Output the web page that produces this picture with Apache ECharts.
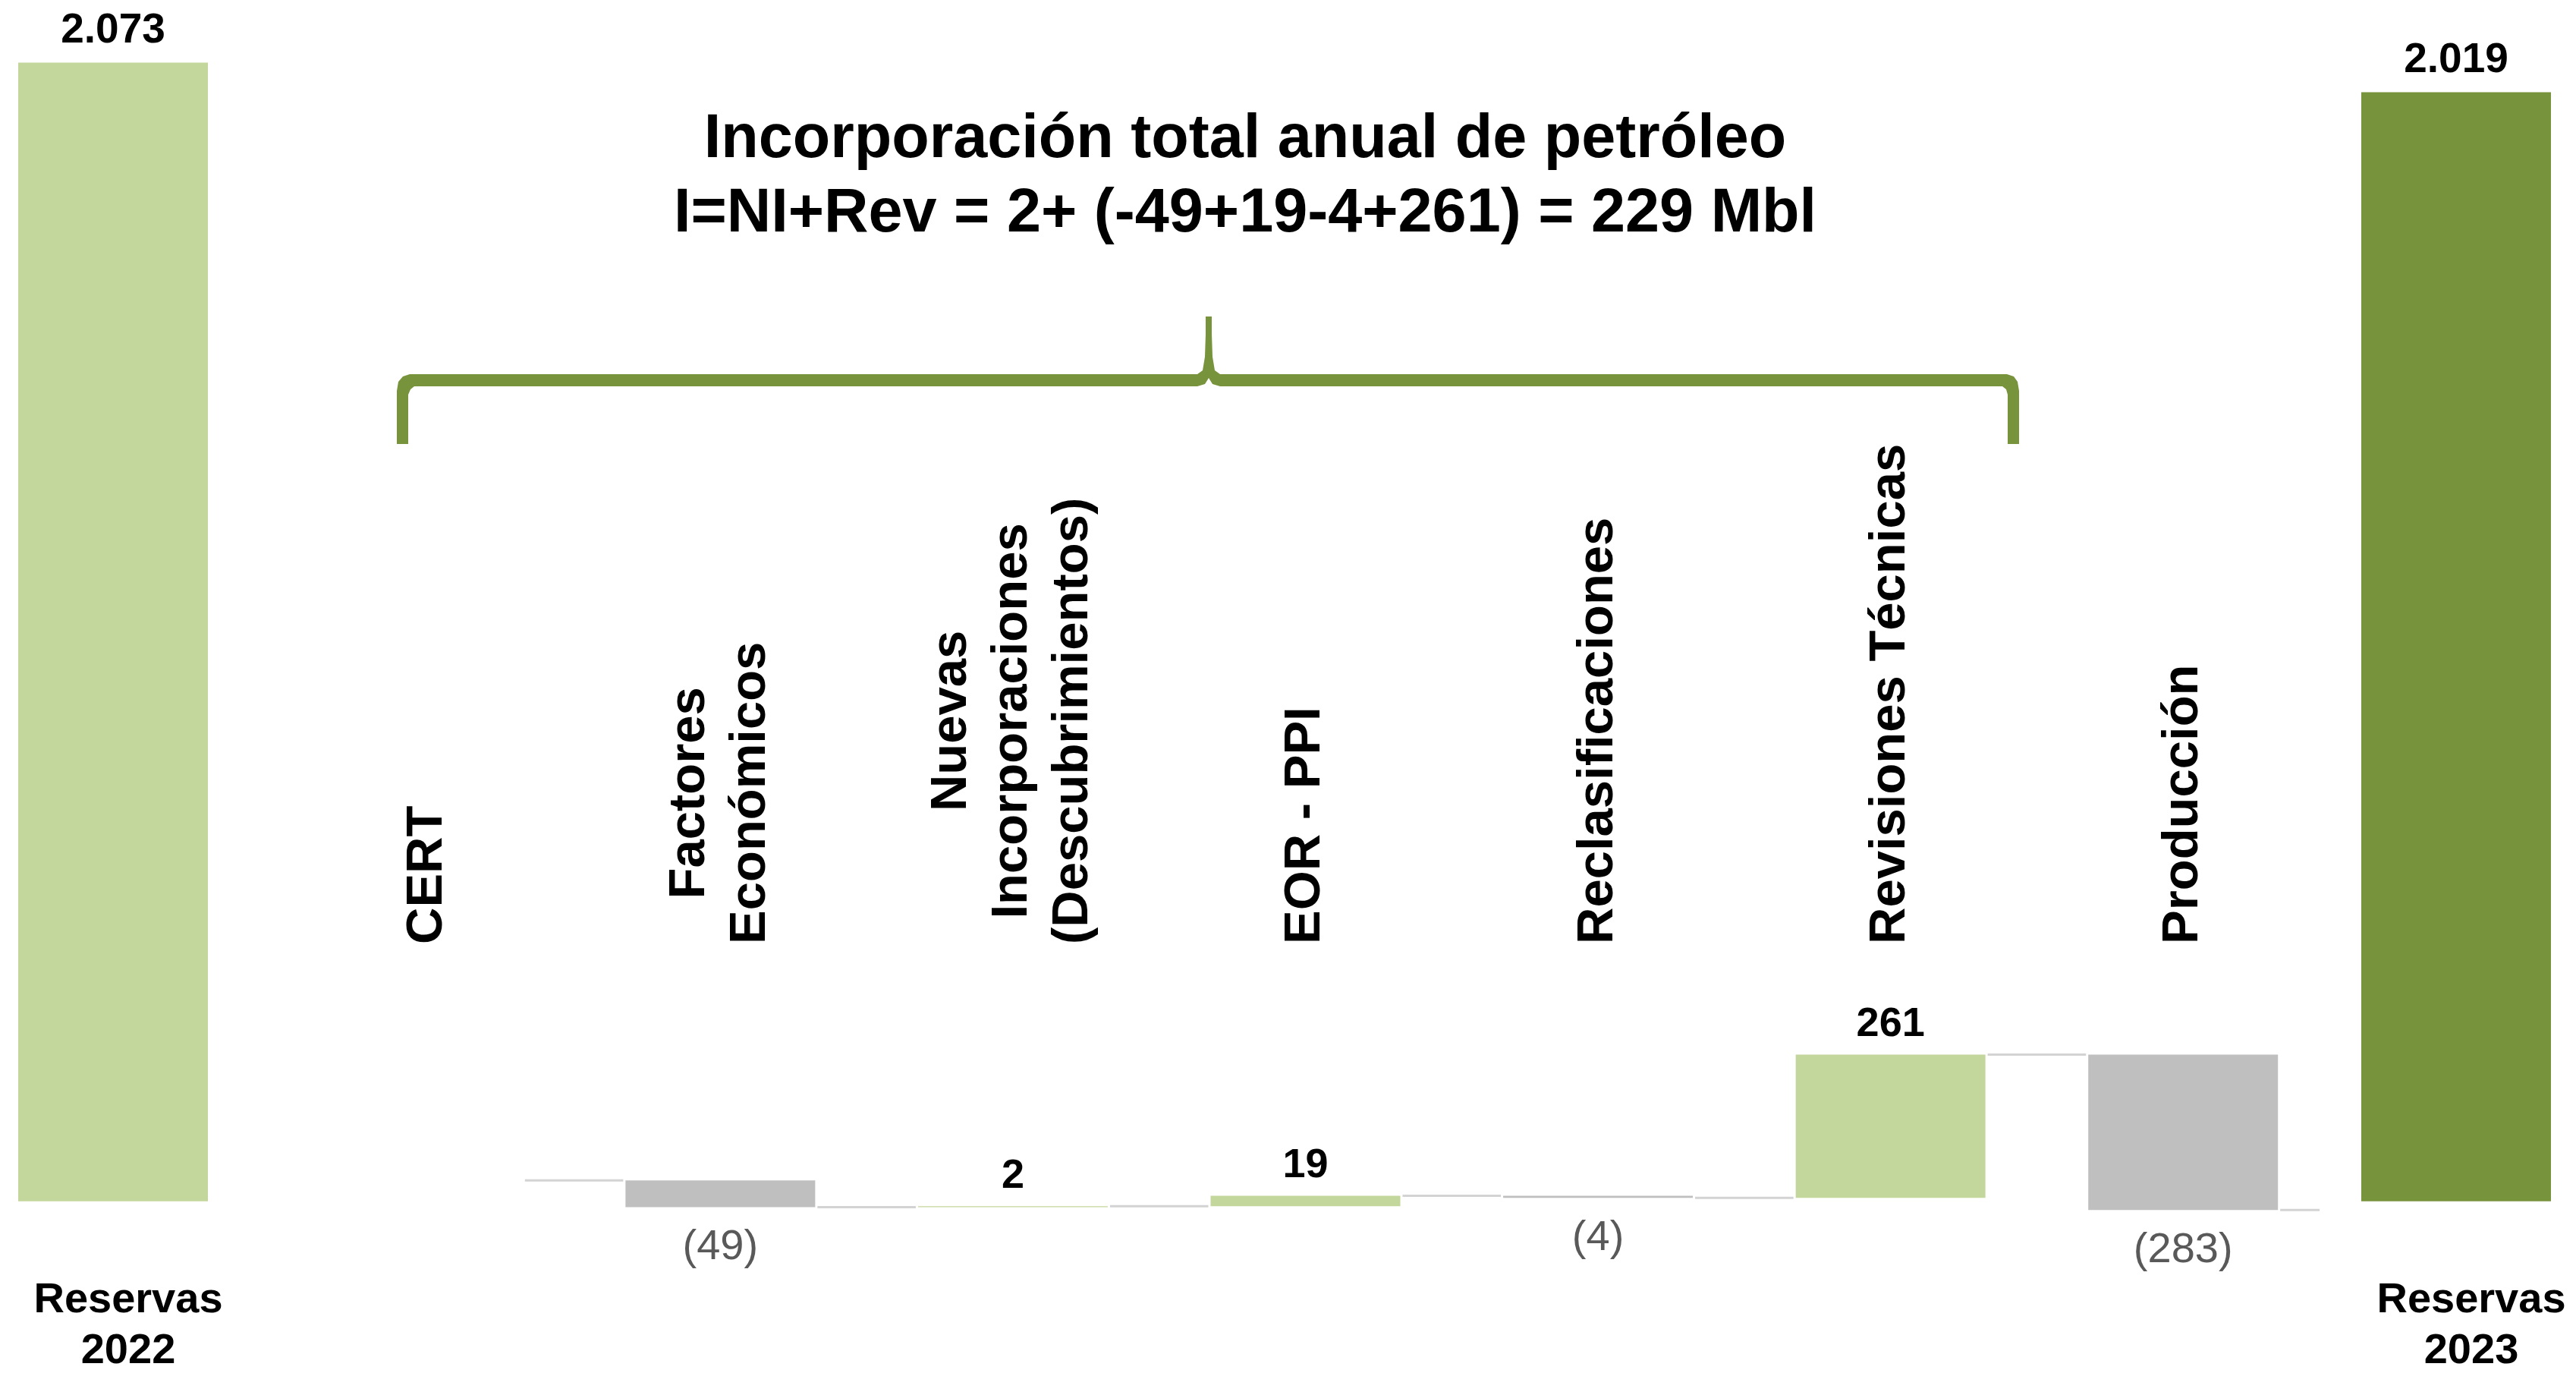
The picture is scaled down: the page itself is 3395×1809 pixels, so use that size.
<!DOCTYPE html>
<html><head><meta charset="utf-8">
<script src="https://cdn.jsdelivr.net/npm/echarts@6/dist/echarts.min.js"></script>
<style>html,body{margin:0;padding:0;background:#fff}#c{width:3395px;height:1809px}</style>
</head><body><div id="c"></div>
<script>
const FONT = '"Liberation Sans", Arial, sans-serif';

// ---- data ----
const endCategories = ['Reservas\n2022', 'Reservas\n2023'];
const reserveValues = [2073, 2019];
const stepCategories = ['CERT', 'Factores\nEconómicos', 'Nuevas\nIncorporaciones\n(Descubrimientos)', 'EOR - PPI', 'Reclasificaciones', 'Revisiones Técnicas', 'Producción'];
const stepValues = [0, -49, 2, 19, -4, 261, -283];
const stepStartLevel = 38; // level at which the floating steps begin
const titleLines = ['Incorporación total anual de petróleo', 'I=NI+Rev = 2+ (-49+19-4+261) = 229 Mbl'];

// ---- styles ----
const C_LIGHT = '#C3D69B', C_DARK = '#77933C', C_GRAY = '#BFBFBF', C_CONN = '#D3D3D3';
const BAR_W = 250;

const allCats = [endCategories[0]].concat(stepCategories, [endCategories[1]]);
const reserveData = allCats.map((c, i) => {
  if (i === 0) return { value: reserveValues[0], itemStyle: { color: C_LIGHT } };
  if (i === allCats.length - 1) return { value: reserveValues[1], itemStyle: { color: C_DARK } };
  return '-';
});

const before = [], after = [];
let lv = stepStartLevel;
stepValues.forEach(d => { before.push(lv); lv += d; after.push(lv); });
const bases = stepValues.map((d, i) => Math.min(before[i], after[i]));
const deltaData = stepValues.map((d, i) => ({
  value: Math.abs(d),
  itemStyle: { color: d < 0 ? C_GRAY : C_LIGHT },
  label: d < 0
    ? { position: 'bottom', distance: 25, fontSize: 56, fontWeight: 'normal', color: '#595959' }
    : { position: 'top', distance: 12, fontSize: 54, fontWeight: 'bold', color: '#000' }
}));
const connData = after.map((v, i) => [i, v]);

const Y_MIN = -100, Y_MAX = 2100;
const gridTop = 63, gridH = 1592;

const chart = echarts.init(document.getElementById('c'));
chart.setOption({
  backgroundColor: '#fff',
  animation: false,
  title: {
    text: titleLines.join('\n'),
    left: 1641, top: 136, padding: 0, textAlign: 'center',
    textStyle: { fontFamily: FONT, fontSize: 81, fontWeight: 'bold', color: '#000', lineHeight: 98 }
  },
  grid: [
    { left: 149, right: 158, top: gridTop, height: gridH, containLabel: false, outerBoundsMode: 'none' },
    { left: 371, right: 325, top: gridTop, height: gridH, containLabel: false, outerBoundsMode: 'none' },
    { left: 371, right: 325, top: 1244, height: 10, containLabel: false, outerBoundsMode: 'none' }
  ],
  xAxis: [
    {
      gridIndex: 0, type: 'category', data: allCats, boundaryGap: false,
      axisLine: { show: false }, axisTick: { show: false }, splitLine: { show: false },
      axisLabel: {
        show: true, interval: 0, margin: 25,
        formatter: (v, i) => (i === 0 || i === allCats.length - 1) ? v : '',
        fontFamily: FONT, fontSize: 56, fontWeight: 'bold', color: '#000', lineHeight: 67,
        padding: [0, 0, 0, 40]
      }
    },
    { gridIndex: 1, type: 'category', data: stepCategories, show: false },
    {
      gridIndex: 2, type: 'category', data: stepCategories, position: 'top',
      axisLine: { show: false }, axisTick: { show: false }, splitLine: { show: false },
      axisLabel: {
        show: true, interval: 0, rotate: 90, margin: 0,
        formatter: v => v.split('\n').map(s => '{c|' + s + '}').join('\n'),
        rich: { c: { align: 'center', fontFamily: FONT, fontSize: 67, fontWeight: 'bold', color: '#000', lineHeight: 80 } }
      }
    }
  ],
  yAxis: [
    { gridIndex: 0, type: 'value', min: Y_MIN, max: Y_MAX, show: false, splitLine: { show: false } },
    { gridIndex: 1, type: 'value', min: Y_MIN, max: Y_MAX, show: false, splitLine: { show: false } },
    { gridIndex: 2, type: 'value', show: false, splitLine: { show: false } }
  ],
  graphic: [{
    type: 'polygon', silent: true,
    shape: { points: [
      [523,585],[523,515],[525,503],[531,496],[540,493],
      [1578,493],[1585,488],[1588,470],[1589,440],[1589,417],
      [1597,417],[1597,440],[1598,470],[1601,488],[1608,493],
      [2645,493],[2654,496],[2659,503],[2661,515],[2661,585],
      [2646,585],[2646,520],[2644,513],[2639,509],
      [1608,509],[1598,506],[1593,498],[1588,506],[1578,509],
      [546,509],[541,513],[538,520],[538,585]
    ] },
    style: { fill: C_DARK }
  }],
  series: [
    {
      type: 'bar', name: 'Reservas', xAxisIndex: 0, yAxisIndex: 0, barWidth: BAR_W, clip: false,
      data: reserveData,
      label: {
        show: true, position: 'top', distance: 14,
        formatter: p => echarts.format.addCommas(p.value).replace(',', '.'),
        fontFamily: FONT, fontSize: 55, fontWeight: 'bold', color: '#000'
      }
    },
    {
      type: 'bar', name: 'base', xAxisIndex: 1, yAxisIndex: 1, stack: 'wf', stackStrategy: 'all',
      barWidth: BAR_W, silent: true, itemStyle: { color: 'rgba(0,0,0,0)' }, data: bases
    },
    {
      type: 'bar', name: 'delta', xAxisIndex: 1, yAxisIndex: 1, stack: 'wf', stackStrategy: 'all',
      barWidth: BAR_W, data: deltaData,
      label: {
        show: true, fontFamily: FONT,
        formatter: p => {
          const d = stepValues[p.dataIndex];
          return d > 0 ? String(d) : (d < 0 ? '(' + (-d) + ')' : '');
        }
      }
    },
    {
      type: 'custom', name: 'conn', xAxisIndex: 1, yAxisIndex: 1, silent: true,
      data: connData,
      renderItem: (params, api) => {
        const i = api.value(0), v = api.value(1);
        const p = api.coord([i, v]);
        const band = api.size([1, 0])[0];
        const x1 = p[0] + BAR_W / 2 + 3;
        const gap = band - BAR_W - 6;
        const x2 = i < stepCategories.length - 1 ? x1 + gap : x1 + gap * 0.4;
        return { type: 'line', shape: { x1: x1, y1: p[1], x2: x2, y2: p[1] },
                 style: { stroke: C_CONN, lineWidth: 3 } };
      }
    }
  ]
});
</script>
</body></html>
